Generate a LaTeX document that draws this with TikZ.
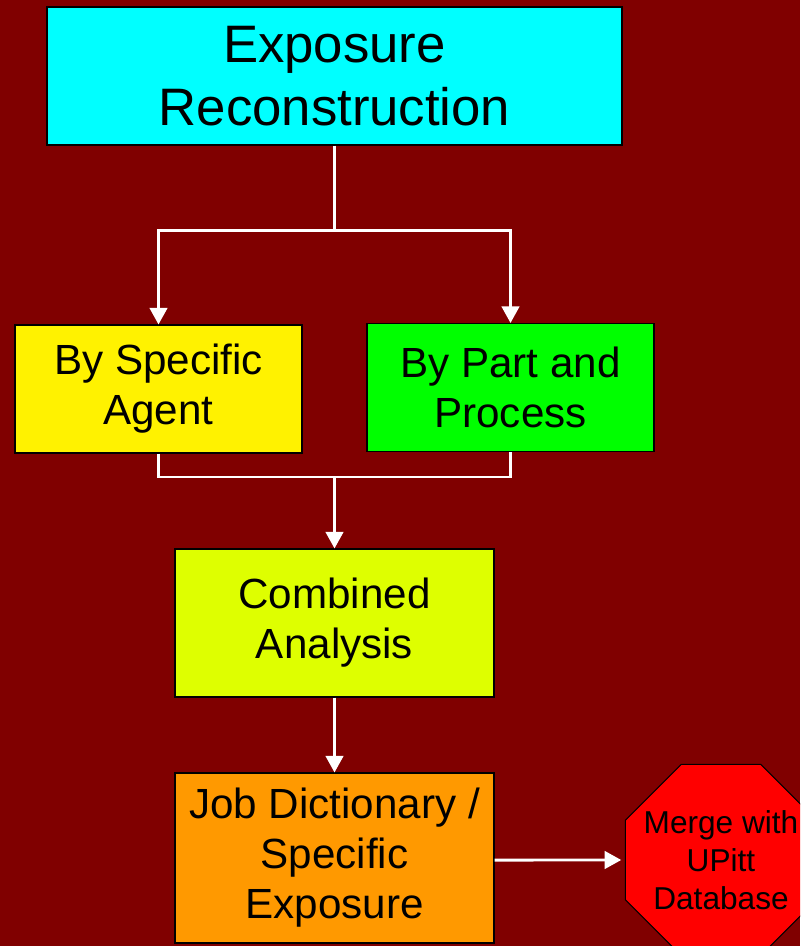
\documentclass[tikz,border=0pt]{standalone}
\usepackage{fontspec}
\setmainfont{Liberation Sans}
\usetikzlibrary{arrows.meta,shapes.geometric}

\definecolor{slidebg}{RGB}{128,0,0}
\definecolor{boxcyan}{RGB}{0,255,255}
\definecolor{limegreen}{RGB}{222,255,0}
\definecolor{joborange}{RGB}{255,153,0}

\begin{document}
\begin{tikzpicture}[
        box/.style={draw=black, line width=0.6pt, inner sep=0pt, align=center},
        link/.style={draw=white, line width=1.7pt},
        linkarrow/.style={link, -{Triangle[width=10pt,length=9.5pt]}}
    ]
            \fill[slidebg] (0,0) rectangle (16,-18.92);
            \clip (0,0) rectangle (16,-18.92);

            \node[box, fill=boxcyan, minimum width=11.5cm, minimum height=2.76cm,
                  font=\fontsize{30}{35.5}\selectfont] (recon) at (6.69,-1.52) {Exposure\\Reconstruction};
            \node[box, fill=yellow, minimum width=5.74cm, minimum height=2.56cm,
                  font=\fontsize{24}{28.5}\selectfont] (agent) at (3.17,-7.78) {By Specific\\Agent};
            \node[box, fill=green, minimum width=5.74cm, minimum height=2.56cm,
                  font=\fontsize{24}{28.5}\selectfont] (process) at (10.21,-7.75) {By Part and\\Process};
            \node[box, fill=limegreen, minimum width=6.38cm, minimum height=2.96cm,
                  font=\fontsize{24}{28.5}\selectfont] (combined) at (6.69,-12.46) {Combined\\Analysis};
            \node[box, fill=joborange, minimum width=6.38cm, minimum height=3.4cm,
                  font=\fontsize{24}{28.5}\selectfont] (jobdict) at (6.69,-17.16) {Job Dictionary /\\Specific\\Exposure};
            \node[box, fill=red, regular polygon, regular polygon sides=8, inner sep=-5.5pt,
                  font=\fontsize{18}{21.6}\selectfont] (merge) at (14.42,-17.2) {Merge with\\UPitt\\Database};

            % split and join
            \draw[link] (recon.south) -- ++(0,-1.7) coordinate (fork);
            \draw[linkarrow] (fork) -| (agent.north);
            \draw[linkarrow] (fork) -| (process.north);
            \coordinate (join) at (6.69,-9.54);
            \draw[link] (agent.south) |- (join) -| (process.south);
            \draw[linkarrow] (join) -- (combined.north);
            \draw[linkarrow] (combined.south) -- (jobdict.north);
            \draw[linkarrow] (jobdict.east |- merge) -- ([xshift=-2pt]merge.west);
        \end{tikzpicture}
\end{document}
